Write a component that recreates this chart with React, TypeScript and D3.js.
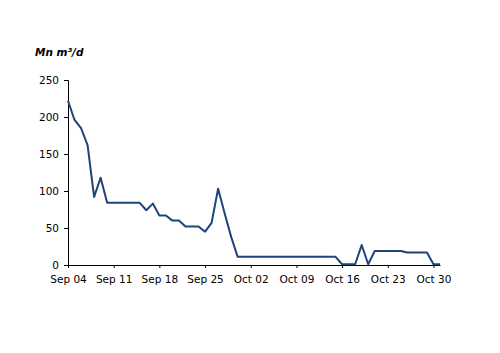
import React, { useEffect, useRef } from 'react';
import * as d3 from 'd3';

// daily flow, Sep 04 .. Oct 31
const startDate = new Date(2022, 8, 4);
const flowValues = [
  222, 196, 185, 162, 92, 118, 84, 84, 84, 84,
  84, 84, 74, 83, 67, 67, 60, 60, 52, 52,
  52, 45, 57, 103, 70, 38, 11, 11, 11, 11,
  11, 11, 11, 11, 11, 11, 11, 11, 11, 11,
  11, 11, 1, 1, 1, 27, 1, 19, 19, 19,
  19, 19, 17, 17, 17, 17, 1, 1,
];
const yTicks = [0, 50, 100, 150, 200, 250];
const unitLabel = 'Mn m³/d';

const App: React.FC = () => {
  const svgRef = useRef<SVGSVGElement>(null);

  useEffect(() => {
    if (!svgRef.current) return;
    const svg = d3.select(svgRef.current);
    svg.selectAll('*').remove();

    const font = '"DejaVu Sans", Verdana, sans-serif';
    const data = flowValues.map((v, i) => ({ date: d3.timeDay.offset(startDate, i), v }));

    const x = d3.scaleTime()
      .domain([startDate, d3.timeDay.offset(startDate, flowValues.length - 1)])
      .range([68, 440]);
    const y = d3.scaleLinear().domain([0, 250]).range([265, 80]);

    const xTicks = d3.range(0, flowValues.length, 7).map(i => d3.timeDay.offset(startDate, i));

    // y axis
    const yAxis = svg.append('g')
      .attr('transform', 'translate(68,0)')
      .call(d3.axisLeft(y).tickValues(yTicks).tickSize(4).tickPadding(5));
    yAxis.select('.domain').attr('stroke', '#000');
    yAxis.selectAll('text').attr('font-size', 10.5).attr('font-family', font).attr('fill', '#000');

    // x axis
    const xAxis = svg.append('g')
      .attr('transform', 'translate(0,265)')
      .call(d3.axisBottom(x).tickValues(xTicks).tickFormat(d3.timeFormat('%b %d') as any).tickSizeInner(3).tickSizeOuter(0).tickPadding(8));
    xAxis.select('.domain').attr('stroke', '#000');
    xAxis.selectAll('text').attr('font-size', 10.5).attr('font-family', font).attr('fill', '#000');

    const line = d3.line<{ date: Date; v: number }>()
      .x(d => x(d.date))
      .y(d => y(d.v));

    svg.append('path')
      .datum(data)
      .attr('fill', 'none')
      .attr('stroke', '#1f4479')
      .attr('stroke-width', 2)
      .attr('stroke-linejoin', 'round')
      .attr('d', line);

    svg.append('text')
      .attr('x', 35)
      .attr('y', 56)
      .attr('font-family', font)
      .attr('font-size', 10.5)
      .attr('font-weight', 'bold')
      .attr('font-style', 'italic')
      .text(unitLabel);
  }, []);

  return (
    <div style={{ position: 'absolute', left: 0, top: 0 }}>
      <svg ref={svgRef} width={500} height={353} style={{ display: 'block', background: '#fff' }} />
    </div>
  );
};

export default App;
